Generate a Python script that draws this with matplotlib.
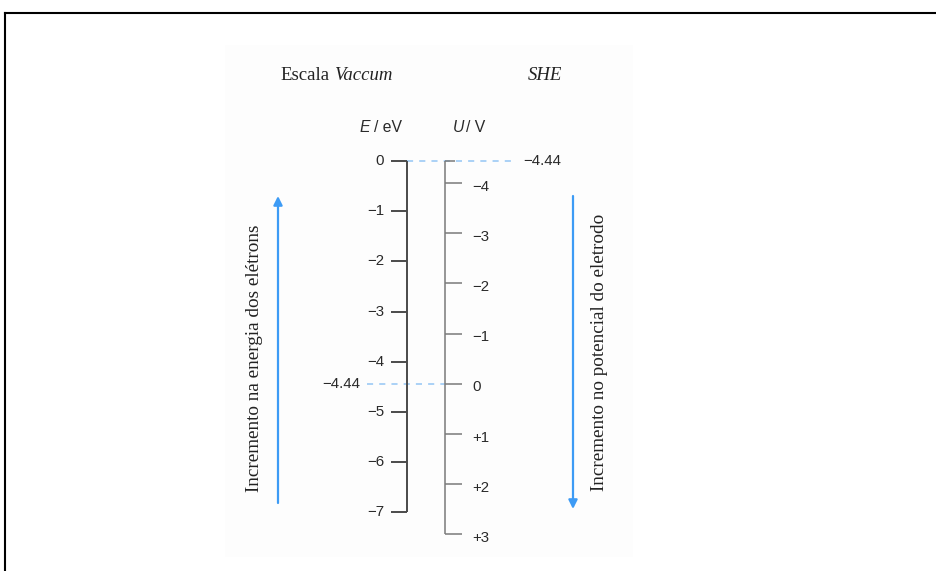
import matplotlib
matplotlib.use("Agg")
import matplotlib.pyplot as plt
from matplotlib.transforms import Affine2D
from matplotlib.patches import Rectangle

# ---- data ----
e_ticks = [0, -1, -2, -3, -4, -5, -6, -7]
e_labels = ["0", "−1", "−2", "−3", "−4", "−5", "−6", "−7"]
u_ticks = [-4, -3, -2, -1, 0, 1, 2, 3]
u_labels = ["−4", "−3", "−2", "−1", "0", "+1", "+2", "+3"]
she_offset = 4.44          # E(vacuum) of SHE zero, eV
she_label = "−4.44"
u_min, u_max = -she_offset, 3

def u_to_e(u):
    return -she_offset - u

W, H = 937, 571
fig = plt.figure(figsize=(W / 100, H / 100), dpi=100)
ax = fig.add_axes([0, 0, 1, 1])
ax.set_xlim(0, W)
# vertical scale: E=0 at pixel 161, 50.2 px per eV
ppe = 50.2
y0 = 161
ax.set_ylim(-(H - y0) / ppe, y0 / ppe)
ax.axis("off")

pix = Affine2D().scale(1 / W, -1 / H).translate(0, 1) + fig.transFigure

SERIF = "Liberation Serif"
SANS = "Liberation Sans"
blue = "#3d9bf5"
dash_blue = "#94c6f5"
dark = "#4a4a4a"
grey = "#7a7a7a"
txt = "#2a2a2a"

# background panel and frame
fig.add_artist(Rectangle((225, 45), 408, 512, transform=pix, facecolor="#fdfdfd",
                         edgecolor="none", zorder=0))
fig.add_artist(plt.Line2D([5, W + 5], [13, 13], transform=pix, color="black", lw=1.5))
fig.add_artist(plt.Line2D([5, 5], [13, H + 5], transform=pix, color="black", lw=1.5))

# ---- E axis (vacuum scale) ----
xe = 407
ax.vlines(xe, min(e_ticks), max(e_ticks), color=dark, lw=1.4)
ax.hlines(e_ticks, xe - 16, xe, color=dark, lw=1.4)
for v, lab in zip(e_ticks, e_labels):
    ax.text(xe - 23, v, lab, ha="right", va="center", fontsize=10.8,
            family=SANS, color=txt)

# ---- U axis (SHE scale) ----
xu = 445
ax.vlines(xu, u_to_e(u_max), u_to_e(u_min), color=grey, lw=1.1)
ax.hlines([u_to_e(u) for u in u_ticks], xu, xu + 17, color=grey, lw=1.1)
ax.hlines(u_to_e(u_min), xu, xu + 10, color=grey, lw=1.1)
for u, lab in zip(u_ticks, u_labels):
    ax.text(xu + 27, u_to_e(u) - 0.07, lab, ha="left", va="center", fontsize=10.8,
            family=SANS, color=txt)

# ---- dashed reference lines ----
ax.hlines(0, xe, 512, color=dash_blue, lw=1.1, linestyles=(0, (4, 4)), zorder=1)
ax.text(523, 0, she_label, ha="left", va="center", fontsize=10.8, family=SANS, color=txt)
ax.hlines(-she_offset, 367, xu, color=dash_blue, lw=1.1, linestyles=(0, (4, 4)), zorder=1)
ax.text(360, -she_offset, she_label, ha="right", va="center", fontsize=10.8,
        family=SANS, color=txt)

# ---- headers ----
ax.text(360, 128, "E", transform=pix, ha="left", va="center", fontsize=11.3,
        family=SANS, style="italic", color=txt)
ax.text(374, 128, "/ eV", transform=pix, ha="left", va="center", fontsize=11.3,
        family=SANS, color=txt)
ax.text(453, 128, "U", transform=pix, ha="left", va="center", fontsize=11.3,
        family=SANS, style="italic", color=txt)
ax.text(466, 128, "/ V", transform=pix, ha="left", va="center", fontsize=11.3,
        family=SANS, color=txt)

ax.text(280, 75, "Escala", transform=pix, ha="left", va="center", fontsize=13.5,
        family=SERIF, color="#222222")
ax.text(334, 75, "Vaccum", transform=pix, ha="left", va="center", fontsize=13.5,
        family=SERIF, style="italic", color="#222222")
ax.text(545, 75, "SHE", transform=pix, ha="center", va="center", fontsize=13.5,
        family=SERIF, style="italic", color="#222222")

# ---- arrows with captions ----
ax.annotate("", xy=(278, 196), xytext=(278, 503), xycoords=pix, textcoords=pix,
            arrowprops=dict(arrowstyle="-|>", color=blue, lw=1.6, mutation_scale=13,
                            shrinkA=0, shrinkB=0))
ax.text(255, 358, "Incremento na energia dos elétrons", transform=pix, rotation=90,
        ha="center", va="center", fontsize=13.8, family=SERIF, color="#222222")

ax.annotate("", xy=(573, 509), xytext=(573, 196), xycoords=pix, textcoords=pix,
            arrowprops=dict(arrowstyle="-|>", color=blue, lw=1.6, mutation_scale=13,
                            shrinkA=0, shrinkB=0))
ax.text(600, 352, "Incremento no potencial do eletrodo", transform=pix, rotation=90,
        ha="center", va="center", fontsize=13.8, family=SERIF, color="#222222")

fig.savefig("out.png", dpi=100)
